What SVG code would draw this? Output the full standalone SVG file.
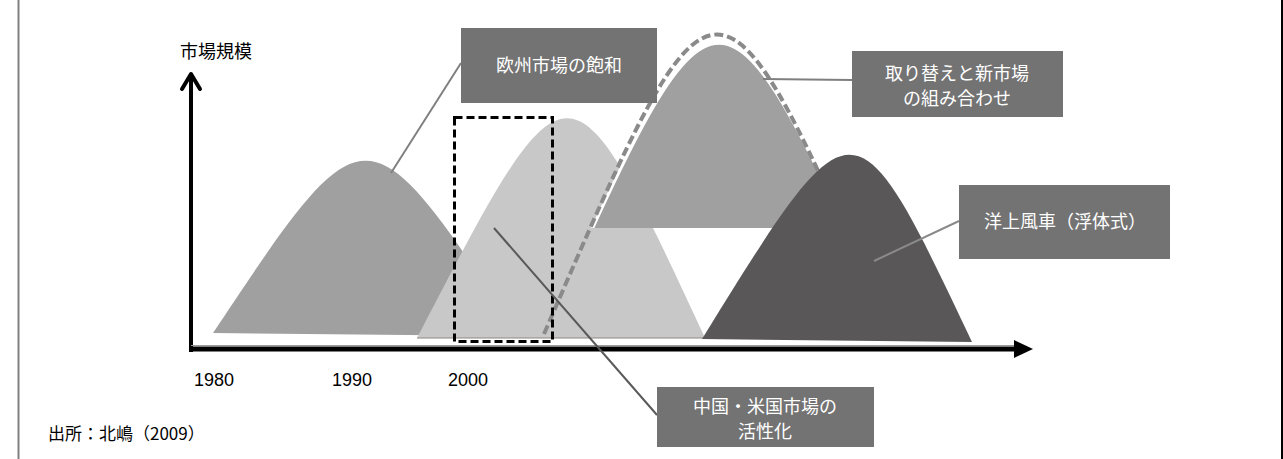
<svg xmlns="http://www.w3.org/2000/svg" width="1283" height="459" viewBox="0 0 1283 459">
<style>
.lbl{font-family:"Noto Sans CJK JP","Noto Sans",sans-serif;font-size:18px;fill:#ffffff;text-anchor:middle}
.box{fill:#737373}
.txt{font-family:"Noto Sans CJK JP","Noto Sans",sans-serif;fill:#000000}
.yr{font-family:"Liberation Sans",Arial,sans-serif;font-size:18px;fill:#000000}
.lead{fill:none;stroke-width:2}
</style>
<defs>
<clipPath id="cut3"><rect x="0" y="0" width="1283" height="228"/></clipPath>
</defs>
<rect x="0" y="0" width="1283" height="459" fill="#ffffff"/>
<line x1="18.5" y1="0" x2="18.5" y2="459" stroke="#808080" stroke-width="2"/>
<line x1="1282" y1="0" x2="1282" y2="459" stroke="#000000" stroke-width="2"/>

<g id="humps">
<path id="hump1" d="M213,333 C366,103 366,103 519,336 Z" fill="#a0a0a0"/>
<path id="hump2" d="M417,338 C569,45 569,45 705,338 Z" fill="#c8c8c8"/>
<line x1="417" y1="338" x2="705" y2="338" stroke="#8c8580" stroke-width="1.2"/>
<path id="hump3" d="M543,338 C719,-55 719,-55 895,338 Z" fill="#a0a0a0" stroke="#ffffff" stroke-width="3" clip-path="url(#cut3)"/>
<path id="dashcurve" d="M544,334 C717,-66 717,-66 892,338" fill="none" stroke="#8a8a8a" stroke-width="4" stroke-dasharray="9 4"/>
<path id="hump4" d="M702,339 C854,93 854,93 972,342 Z" fill="#595757"/>
</g>

<rect id="focus" x="454.5" y="117.5" width="98" height="224" fill="none" stroke="#000000" stroke-width="3" stroke-dasharray="8 4"/>

<g id="axes">
<line x1="191" y1="352" x2="191" y2="76" stroke="#000000" stroke-width="4"/>
<polyline points="182,89 191,74 200,89" fill="none" stroke="#000000" stroke-width="4" stroke-linejoin="round" stroke-linecap="round"/>
<line x1="191" y1="345.5" x2="1014" y2="345.5" stroke="#9a9a9a" stroke-width="1"/>
<rect x="189" y="346.5" width="827" height="5" fill="#000000"/>
<polygon points="1014,340 1033,349 1014,358" fill="#000000"/>
</g>

<g id="connectors">
<line class="lead" x1="461" y1="63" x2="391" y2="173" stroke="#808080"/>
<line class="lead" x1="852" y1="80" x2="763" y2="79" stroke="#7f7f7f" stroke-width="2.5"/>
<line class="lead" x1="959" y1="221" x2="874" y2="261" stroke="#8a8a8a"/>
<line class="lead" x1="657" y1="415" x2="494" y2="228" stroke="#595959"/>
</g>

<g id="node-eu">
<rect class="box" x="461" y="28" width="196" height="75"/>
<text class="lbl" x="559" y="72">欧州市場の飽和</text>
</g>
<g id="node-replace">
<rect class="box" x="852" y="51" width="211" height="66"/>
<text class="lbl" x="957" y="80">取り替えと新市場</text>
<text class="lbl" x="957" y="105">の組み合わせ</text>
</g>
<g id="node-offshore">
<rect class="box" x="959" y="185" width="211" height="74"/>
<text class="lbl" x="1065" y="228">洋上風車（浮体式）</text>
</g>
<g id="node-china">
<rect class="box" x="657" y="387" width="217" height="60"/>
<text class="lbl" x="765" y="413">中国・米国市場の</text>
<text class="lbl" x="765" y="438">活性化</text>
</g>

<g id="labels">
<text class="txt" x="180" y="58" font-size="18">市場規模</text>
<text class="yr" x="194" y="386">1980</text>
<text class="yr" x="332" y="386">1990</text>
<text class="yr" x="448" y="386">2000</text>
<text class="txt" x="48" y="440" font-size="17">出所：北嶋（2009）</text>
</g>
</svg>
